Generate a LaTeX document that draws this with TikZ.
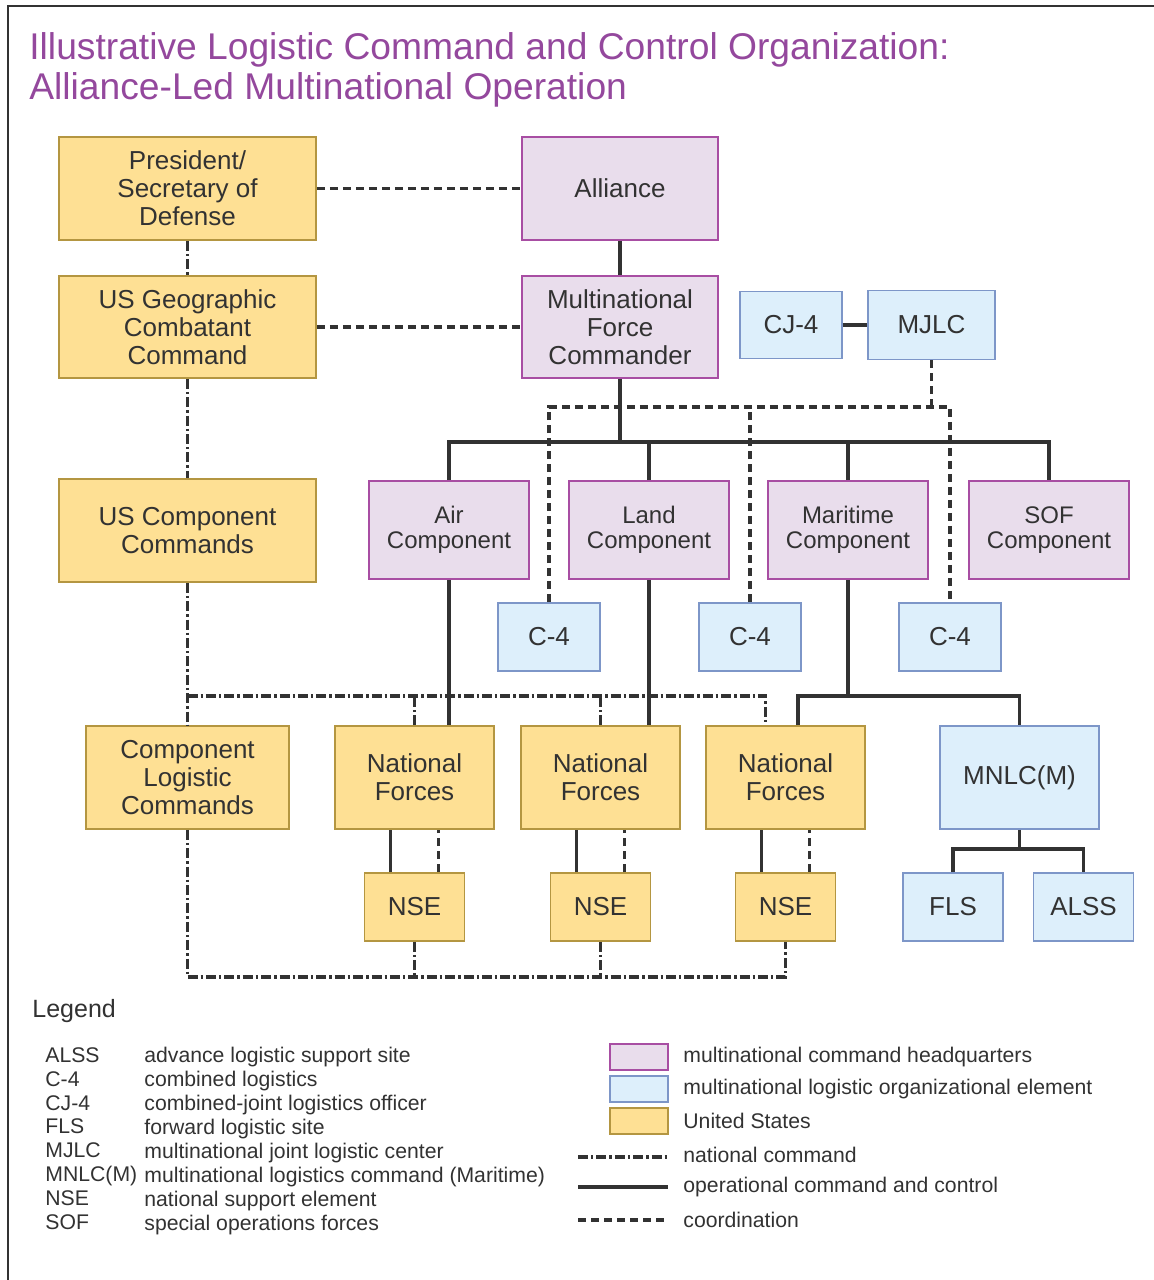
\documentclass[tikz,border=0pt]{standalone}
\usepackage{fontspec}
\setmainfont{Liberation Sans}
\definecolor{txt}{RGB}{50,50,50}
\definecolor{titleCol}{RGB}{148,72,157}
\definecolor{hqFill}{RGB}{233,221,236}
\definecolor{hqLine}{RGB}{168,78,163}
\definecolor{logFill}{RGB}{221,239,251}
\definecolor{logLine}{RGB}{125,150,200}
\definecolor{usFill}{RGB}{254,224,148}
\definecolor{usLine}{RGB}{180,150,65}

\begin{document}
\begin{tikzpicture}[x=0.5pt,y=-0.5pt]
	\useasboundingbox (0,0) rectangle (1154,1280);
	
	\tikzstyle{box}=[line width=0.8pt,inner sep=0pt,align=center,text=txt,font=\fontsize{13}{14}\selectfont]
	\tikzstyle{hqBox}=[box,draw=hqLine,fill=hqFill]
	\tikzstyle{logBox}=[box,draw=logLine,fill=logFill]
	\tikzstyle{usBox}=[box,draw=usLine,fill=usFill]
	\tikzstyle{comp}=[hqBox,minimum width=80pt,minimum height=49pt,font=\fontsize{12}{12.5}\selectfont]
	\tikzstyle{small}=[minimum width=50pt,minimum height=34pt]
	
	\tikzstyle{opLine}=[draw=txt,line width=1.6pt]
	\tikzstyle{coLine}=[opLine,dash pattern=on 4pt off 2.5pt]
	\tikzstyle{natLine}=[opLine,dash pattern=on 5pt off 1.5pt on 1.2pt off 1.5pt]
	
	\tikzstyle{legText}=[inner sep=0pt,align=left,text=txt,font=\fontsize{10.6}{11.95}\selectfont]
	
	\draw[txt,line width=1pt] (8,1280) -- (8,6) -- (1154,6);
	
	\node[anchor=north west,inner sep=0pt,align=left,text=titleCol,font=\fontsize{18.6}{20}\selectfont](title) at (29,32){Illustrative Logistic Command and Control Organization:\\Alliance-Led Multinational Operation};
	
	% US side
	\node[usBox,minimum width=128.5pt,minimum height=51.5pt](pres) at (187.5,188.5){President/\\Secretary of\\Defense};
	\node[usBox,minimum width=128.5pt,minimum height=51pt](usgcc) at (187.5,327){US Geographic\\Combatant\\Command};
	\node[usBox,minimum width=128.5pt,minimum height=51.5pt](uscc) at (187.5,530.5){US Component\\Commands};
	\node[usBox,minimum width=101.5pt,minimum height=51.5pt](clc) at (187.5,777.5){Component\\Logistic\\Commands};
	
	% alliance side
	\node[hqBox,minimum width=98pt,minimum height=51.5pt](alliance) at (620,188.5){Alliance};
	\node[hqBox,minimum width=98pt,minimum height=51pt](mnfc) at (620,327){Multinational\\Force\\Commander};
	\node[logBox,minimum width=51pt,minimum height=33.5pt](cj4) at (791,325){CJ-4};
	\node[logBox,minimum width=63.5pt,minimum height=34.5pt](mjlc) at (931.5,325){MJLC};
	
	\node[comp](air) at (449,530){Air\\Component};
	\node[comp](land) at (649,530){Land\\Component};
	\node[comp](marit) at (848,530){Maritime\\Component};
	\node[comp](sof) at (1049,530){SOF\\Component};
	
	\node[logBox,minimum width=51pt,minimum height=34pt](c4a) at (549,637){C-4};
	\node[logBox,minimum width=51pt,minimum height=34pt](c4b) at (750,637){C-4};
	\node[logBox,minimum width=51pt,minimum height=34pt](c4c) at (950,637){C-4};
	
	\node[usBox,minimum width=79.5pt,minimum height=51.5pt](nf1) at (414.5,777.5){National\\Forces};
	\node[usBox,minimum width=79.5pt,minimum height=51.5pt](nf2) at (600.5,777.5){National\\Forces};
	\node[usBox,minimum width=79.5pt,minimum height=51.5pt](nf3) at (785.5,777.5){National\\Forces};
	\node[logBox,minimum width=79.5pt,minimum height=51.5pt](mnlc) at (1019.5,777.5){MNLC(M)};
	
	\node[usBox,small](nse1) at (414.5,907){NSE};
	\node[usBox,small](nse2) at (600.5,907){NSE};
	\node[usBox,small](nse3) at (785.5,907){NSE};
	\node[logBox,small](fls) at (953,907){FLS};
	\node[logBox,small](alss) at (1083.5,907){ALSS};
	
	\coordinate(opBus) at (620,442);
	\coordinate(coBus) at (750,407);
	\coordinate(natBus) at (187.5,696);
	\coordinate(mariBus) at (848,696);
	\coordinate(natEnd) at (785.5,977);
	\coordinate(mnlcBus) at (1019.5,849);
	
	% coordination
	\draw[coLine] (pres) -- (alliance);
	\draw[coLine] (usgcc) -- (mnfc);
	\draw[coLine] (c4a.north) |- (coBus) -| (c4c.north);
	\draw[coLine] (c4b.north) -- (coBus);
	\draw[coLine] (mjlc.south) -- (mjlc.south |- coBus);
	\draw[coLine] ([xshift=12pt]nse1.north) -- ([xshift=12pt]nse1.north |- nf1.south);
	\draw[coLine] ([xshift=12pt]nse2.north) -- ([xshift=12pt]nse2.north |- nf2.south);
	\draw[coLine] ([xshift=12pt]nse3.north) -- ([xshift=12pt]nse3.north |- nf3.south);
	
	% operational command and control
	\draw[opLine] (alliance) -- (mnfc);
	\draw[opLine] (cj4) -- (mjlc);
	\draw[opLine] (mnfc.south) -- (opBus);
	\draw[opLine] (air.north) |- (opBus) -| (sof.north);
	\draw[opLine] (land.north) -- (land.north |- opBus);
	\draw[opLine] (marit.north) -- (marit.north |- opBus);
	\draw[opLine] (air.south) -- (air.south |- nf1.north);
	\draw[opLine] (land.south) -- (land.south |- nf2.north);
	\draw[opLine] (marit.south) -- (mariBus);
	\draw[opLine] ([xshift=6.25pt]nf3.north) |- (mariBus) -| (mnlc.north);
	\draw[opLine] ([xshift=-12pt]nse1.north) -- ([xshift=-12pt]nse1.north |- nf1.south);
	\draw[opLine] ([xshift=-12pt]nse2.north) -- ([xshift=-12pt]nse2.north |- nf2.south);
	\draw[opLine] ([xshift=-12pt]nse3.north) -- ([xshift=-12pt]nse3.north |- nf3.south);
	\draw[opLine] (mnlc.south) -- (mnlcBus);
	\draw[opLine] (fls.north) |- (mnlcBus) -| (alss.north);
	
	% national command
	\draw[natLine] (pres) -- (usgcc);
	\draw[natLine] (usgcc) -- (uscc);
	\draw[natLine] (uscc) -- (clc);
	\draw[natLine] (natBus) -| ([xshift=-10pt]nf3.north);
	\draw[natLine] (nf1.north) -- (nf1.north |- natBus);
	\draw[natLine] (nf2.north) -- (nf2.north |- natBus);
	\draw[natLine] (clc.south) |- (natEnd) -- (nse3.south);
	\draw[natLine] (nse1.south) -- (nse1.south |- natEnd);
	\draw[natLine] (nse2.south) -- (nse2.south |- natEnd);
	
	% legend
	\node[anchor=base west,inner sep=0pt,text=txt,font=\fontsize{12.5}{14}\selectfont](legTitle) at (32,1017){Legend};
	\node[legText,anchor=north west](legAbbr) at (45,1047){ALSS\\C-4\\CJ-4\\FLS\\MJLC\\MNLC(M)\\NSE\\SOF};
	\node[legText,anchor=north west](legDef) at (144,1047){advance logistic support site\\combined logistics\\combined-joint logistics officer\\forward logistic site\\multinational joint logistic center\\multinational logistics command (Maritime)\\national support element\\special operations forces};
	
	\node[hqBox,minimum width=29pt,minimum height=13pt](hqKey) at (639,1057){};
	\node[logBox,minimum width=29pt,minimum height=13pt](logKey) at (639,1089){};
	\node[usBox,minimum width=29pt,minimum height=13pt](usKey) at (639,1121){};
	\draw[natLine] (578,1157) -- (668,1157);
	\draw[opLine] (578,1187) -- (668,1187);
	\draw[coLine] (578,1220) -- (668,1220);
	
	\node[legText,anchor=west](hqKeyText) at (683,1057){multinational command headquarters};
	\node[legText,anchor=west](logKeyText) at (683,1089){multinational logistic organizational element};
	\node[legText,anchor=west](usKeyText) at (683,1121){United States};
	\node[legText,anchor=west](natKeyText) at (683,1155){national command};
	\node[legText,anchor=west](opKeyText) at (683,1187){operational command and control};
	\node[legText,anchor=west](coKeyText) at (683,1220){coordination};
	
\end{tikzpicture}
\end{document}
